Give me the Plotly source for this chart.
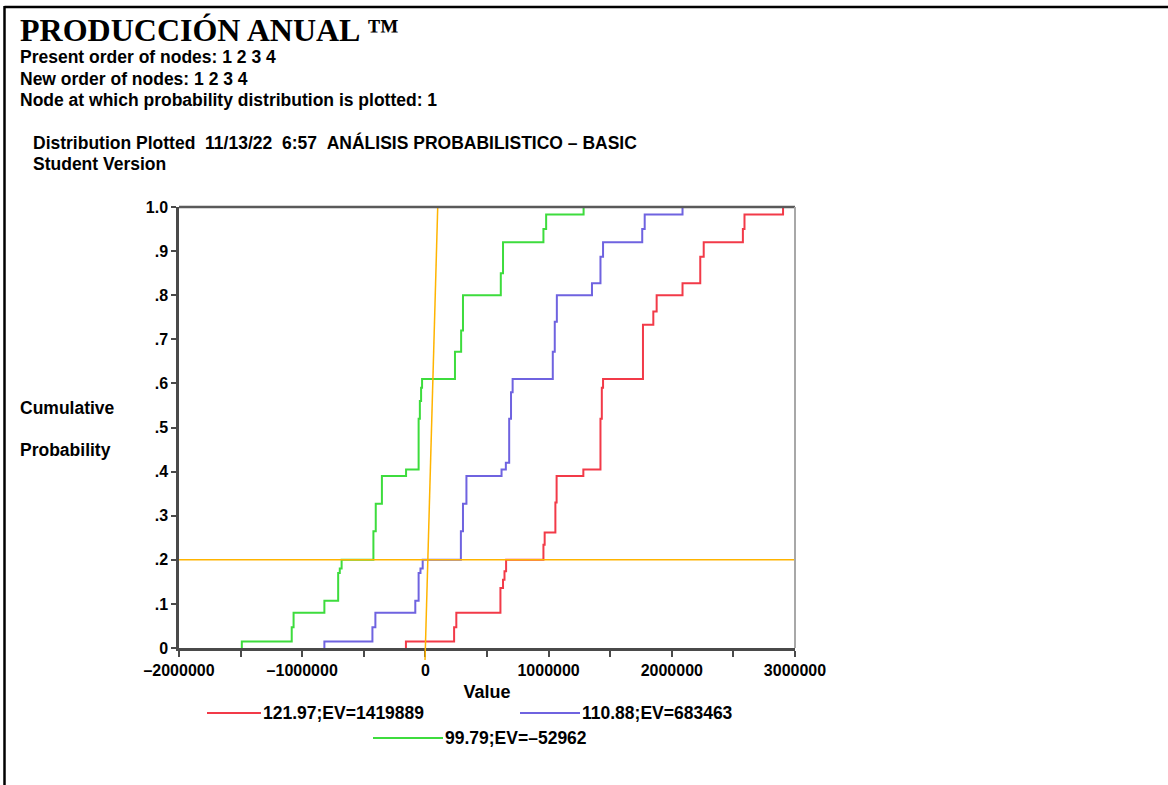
import plotly.graph_objects as go

# ---------------- data ----------------
red_name = "121.97;EV=1419889"
red_x = [-158000, 233000, 251000, 609000, 630000, 642000, 655000, 958000, 968000, 1055000,
         1065000, 1282000, 1421000, 1432000, 1442000, 1766000, 1850000, 1877000, 2087000,
         2231000, 2259000, 2577000, 2590000, 2903000]
red_p = [0.015, 0.047, 0.08, 0.136, 0.155, 0.174, 0.2, 0.234, 0.262, 0.33,
         0.39, 0.405, 0.52, 0.59, 0.61, 0.733, 0.763, 0.8, 0.827,
         0.887, 0.92, 0.95, 0.983, 1.0]

blue_name = "110.88;EV=683463"
blue_x = [-820000, -430000, -406000, -82000, -55000, -40000, -22000, 288000, 305000, 333000,
          618000, 653000, 680000, 695000, 708000, 1034000, 1050000, 1067000, 1352000, 1421000,
          1442000, 1760000, 1780000, 2087000]
blue_p = [0.015, 0.047, 0.08, 0.107, 0.17, 0.18, 0.2, 0.265, 0.327, 0.39,
          0.405, 0.42, 0.52, 0.58, 0.61, 0.672, 0.74, 0.8, 0.827, 0.887,
          0.92, 0.95, 0.983, 1.0]

green_name = "99.79;EV=\u201352962"
green_x = [-1490000, -1085000, -1070000, -820000, -708000, -695000, -680000, -422000, -403000,
           -353000, -157000, -55000, -45000, -35000, -27000, 240000, 290000, 305000, 612000,
           630000, 958000, 980000, 1284000]
green_p = [0.015, 0.047, 0.08, 0.107, 0.17, 0.18, 0.2, 0.265, 0.327,
           0.39, 0.405, 0.52, 0.56, 0.59, 0.61, 0.672, 0.72, 0.8, 0.85,
           0.92, 0.95, 0.983, 1.0]

ref_prob = 0.2
ref_line_x = [-3000, 100000]
ref_line_y = [-0.027, 1.0]

x_range = [-2000000, 3000000]
x_tick_vals = [-2000000, -1500000, -1000000, -500000, 0, 500000, 1000000, 1500000,
               2000000, 2500000, 3000000]
x_tick_text = ["\u20132000000", "", "\u20131000000", "", "0", "", "1000000", "",
               "2000000", "", "3000000"]
y_tick_vals = [0, 0.1, 0.2, 0.3, 0.4, 0.5, 0.6, 0.7, 0.8, 0.9, 1.0]
y_tick_text = ["0", ".1", ".2", ".3", ".4", ".5", ".6", ".7", ".8", ".9", "1.0"]

title_text = "PRODUCCIÓN ANUAL ™"
header_lines = ["Present order of nodes: 1 2 3 4",
                "New order of nodes: 1 2 3 4",
                "Node at which probability distribution is plotted: 1"]
dist_line = "Distribution Plotted\u00a0\u00a011/13/22\u00a0\u00a06:57\u00a0\u00a0ANÁLISIS PROBABILISTICO \u2013 BASIC"
student_line = "Student Version"

# ---------------- styling ----------------
RED = "#f23a48"
BLUE = "#6f63e0"
GREEN = "#3ddc3d"
ORANGE = "#ffb400"
AXC = "#4a4a4a"
W, H = 1168, 785
L, R, T, B = 179, 795, 207, 648
TXT = 17.5


def X(px):
    return (px - L) / (R - L)


def Y(py):
    return (B - py) / (B - T)


def XV(v):
    return (v - x_range[0]) / (x_range[1] - x_range[0])


SANS = "Liberation Sans, Arial, sans-serif"
SERIF = "Liberation Serif, Times New Roman, serif"

fig = go.Figure()
for name, xs, ps, col in [(red_name, red_x, red_p, RED),
                          (blue_name, blue_x, blue_p, BLUE),
                          (green_name, green_x, green_p, GREEN)]:
    fig.add_trace(go.Scatter(x=[xs[0]] + xs, y=[0] + ps, mode="lines", name=name,
                             line=dict(color=col, width=2, shape="hv"),
                             showlegend=False))

shapes = []
shapes.append(dict(type="line", xref="x", yref="y", x0=x_range[0], x1=x_range[1],
                   y0=ref_prob, y1=ref_prob, line=dict(color=ORANGE, width=1.5), layer="above"))
shapes.append(dict(type="line", xref="paper", yref="paper", x0=XV(ref_line_x[0]), x1=XV(ref_line_x[1]),
                   y0=ref_line_y[0], y1=ref_line_y[1], line=dict(color=ORANGE, width=1.5),
                   layer="above"))
shapes.append(dict(type="line", xref="paper", yref="paper", x0=0, x1=1, y0=1, y1=1,
                   line=dict(color="#5a5a5a", width=2.5)))
shapes.append(dict(type="line", xref="paper", yref="paper", x0=1, x1=1, y0=0, y1=1,
                   line=dict(color="#a8a8a8", width=2)))
shapes.append(dict(type="line", xref="paper", yref="paper", x0=X(4.5), x1=X(1168), y0=Y(7), y1=Y(7),
                   line=dict(color="black", width=2.5)))
shapes.append(dict(type="line", xref="paper", yref="paper", x0=X(4.5), x1=X(4.5), y0=Y(6), y1=Y(785),
                   line=dict(color="black", width=2.5)))
leg = [(RED, 207, 261, 713, red_name), (BLUE, 520, 580, 713, blue_name),
       (GREEN, 373, 443, 738, green_name)]
annotations = []
for col, a, b, yy, name in leg:
    shapes.append(dict(type="line", xref="paper", yref="paper", x0=X(a), x1=X(b), y0=Y(yy), y1=Y(yy),
                       line=dict(color=col, width=2)))
    annotations.append(dict(xref="paper", yref="paper", x=X(b), y=Y(yy), text=name,
                            showarrow=False, xanchor="left", yanchor="middle",
                            font=dict(family=SANS, size=TXT, color="black", weight="bold")))

annotations.append(dict(xref="paper", yref="paper", x=X(18), y=Y(30), text=title_text,
                        showarrow=False, xanchor="left", yanchor="middle",
                        font=dict(family=SERIF, size=32, color="black", weight="bold")))
for i, t in enumerate(header_lines):
    annotations.append(dict(xref="paper", yref="paper", x=X(18), y=Y(57 + 21.5 * i), text=t,
                            showarrow=False, xanchor="left", yanchor="middle",
                            font=dict(family=SANS, size=TXT, color="black", weight="bold")))
annotations.append(dict(xref="paper", yref="paper", x=X(31), y=Y(142), text=dist_line,
                        showarrow=False, xanchor="left", yanchor="middle",
                        font=dict(family=SANS, size=TXT, color="black", weight="bold")))
annotations.append(dict(xref="paper", yref="paper", x=X(31), y=Y(164), text=student_line,
                        showarrow=False, xanchor="left", yanchor="middle",
                        font=dict(family=SANS, size=TXT, color="black", weight="bold")))
annotations.append(dict(xref="paper", yref="paper", x=X(18), y=Y(408), text="Cumulative",
                        showarrow=False, xanchor="left", yanchor="middle",
                        font=dict(family=SANS, size=TXT, color="black", weight="bold")))
annotations.append(dict(xref="paper", yref="paper", x=X(18), y=Y(450), text="Probability",
                        showarrow=False, xanchor="left", yanchor="middle",
                        font=dict(family=SANS, size=TXT, color="black", weight="bold")))

fig.update_layout(
    width=W, height=H,
    margin=dict(l=L, r=W - R, t=T, b=H - B, pad=0),
    paper_bgcolor="white", plot_bgcolor="white",
    shapes=shapes, annotations=annotations,
    xaxis=dict(range=x_range, tickvals=x_tick_vals, ticktext=x_tick_text,
               showgrid=False, zeroline=False, showline=True, linecolor=AXC, linewidth=2.5,
               ticks="outside", ticklen=6, tickwidth=1.5, tickcolor=AXC,
               tickfont=dict(family=SANS, size=16, color="black", weight="bold"),
               title=dict(text="Value", standoff=8,
                          font=dict(family=SANS, size=18, color="black", weight="bold"))),
    yaxis=dict(range=[0, 1.0], tickvals=y_tick_vals, ticktext=y_tick_text,
               showgrid=False, zeroline=False, showline=True, linecolor=AXC, linewidth=2.5,
               ticks="outside", ticklen=5, tickwidth=1.5, tickcolor=AXC,
               tickfont=dict(family=SANS, size=16, color="black", weight="bold")),
)

fig.write_html("out.html", config={"displayModeBar": False},
               post_script="document.body.style.margin='0px';")
